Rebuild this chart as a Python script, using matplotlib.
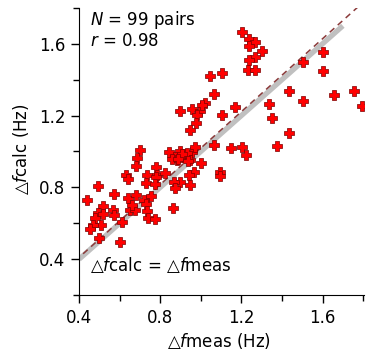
import matplotlib
matplotlib.use("Agg")
import matplotlib.pyplot as plt
from matplotlib.ticker import MultipleLocator

# measured vs calculated frequency shift (Hz), 99 pairs
f_meas = [1.203, 1.236, 1.266, 1.236, 1.302, 1.266, 1.236, 1.231, 1.269, 1.603,
          1.503, 1.603, 1.105, 1.437, 1.656, 1.755, 1.795, 1.503, 1.335, 1.167,
          1.105, 1.352, 1.437, 1.376, 1.151, 1.203, 1.223, 1.047, 1.067, 1.022,
          0.899, 0.957, 0.998, 0.981, 0.978, 0.948, 0.701, 0.841, 0.899, 0.957,
          0.874, 0.915, 0.885, 0.948, 0.973, 1.067, 0.778, 1.001, 0.964, 0.940,
          0.899, 0.866, 0.948, 1.096, 1.096, 0.685, 0.679, 0.734, 0.784, 0.825,
          0.632, 0.643, 0.728, 0.780, 0.775, 0.495, 0.570, 0.640, 0.681, 0.438,
          0.721, 0.753, 0.731, 0.734, 0.742, 0.775, 0.862, 0.516, 0.569, 0.491,
          0.573, 0.649, 0.677, 0.479, 0.611, 0.506, 0.471, 0.454, 0.499, 0.601,
          0.874, 1.006, 0.930, 0.860, 0.905, 0.890, 0.935, 0.660, 0.520]
f_calc = [1.664, 1.629, 1.608, 1.590, 1.558, 1.525, 1.508, 1.456, 1.456, 1.555,
          1.501, 1.446, 1.437, 1.339, 1.316, 1.339, 1.255, 1.283, 1.266, 1.247,
          1.204, 1.186, 1.102, 1.033, 1.022, 1.027, 0.981, 1.418, 1.322, 1.270,
          1.227, 1.238, 1.223, 1.204, 1.158, 1.121, 1.009, 0.999, 1.005, 0.999,
          0.972, 0.972, 0.953, 0.953, 1.024, 1.037, 0.916, 0.935, 0.888, 0.869,
          0.832, 0.832, 0.813, 0.886, 0.864, 0.963, 0.920, 0.869, 0.869, 0.879,
          0.869, 0.844, 0.827, 0.858, 0.819, 0.805, 0.762, 0.742, 0.760, 0.732,
          0.730, 0.752, 0.707, 0.671, 0.627, 0.623, 0.683, 0.696, 0.674, 0.660,
          0.646, 0.674, 0.674, 0.630, 0.608, 0.593, 0.593, 0.568, 0.516, 0.497,
          0.795, 1.260, 0.990, 0.960, 0.985, 0.960, 0.945, 0.700, 0.650]

identity_range = [0.4, 1.7]
fit_range = [0.42, 1.78]
fit_slope = 1.015
fit_intercept = 0.004

x_ticks = [0.4, 0.8, 1.2, 1.6]
y_ticks = [0.4, 0.8, 1.2, 1.6]

plt.rcParams['font.family'] = ['DejaVu Sans']
plt.rcParams['font.size'] = 12

fig = plt.figure(figsize=(3.66, 3.56), dpi=100)
ax = fig.add_axes([0.216, 0.171, 0.779, 0.807])

ax.plot(identity_range, identity_range, color='#c0c0c0', lw=3.8,
        solid_capstyle='butt', zorder=1)
fit_y = [fit_slope * x + fit_intercept for x in fit_range]
ax.plot(fit_range, fit_y, color='#8b3a3a', lw=1.1, ls=(0, (4, 3)), zorder=2)

ax.scatter(f_meas, f_calc, marker='P', s=62, facecolor='#ff0000',
           edgecolor='#7a0000', linewidths=0.5, zorder=3)

ax.set_xlim(0.4, 1.805)
ax.set_ylim(0.2, 1.8)
ax.set_xticks(x_ticks)
ax.set_yticks(y_ticks)
ax.xaxis.set_minor_locator(MultipleLocator(0.2))
ax.yaxis.set_minor_locator(MultipleLocator(0.2))
ax.tick_params(which='major', direction='out', length=6, width=1, pad=4)
ax.tick_params(which='minor', direction='out', length=4, width=1)
ax.spines['top'].set_visible(False)
ax.spines['right'].set_visible(False)

ax.set_xlabel('△$f$meas (Hz)')
ax.set_ylabel('△$f$calc (Hz)')
ax.xaxis.set_label_coords(0.49, -0.125)
ax.yaxis.set_label_coords(-0.17, 0.51)

ax.text(0.04, 0.958, '$N$ = 99 pairs', transform=ax.transAxes, va='center')
ax.text(0.04, 0.885, '$r$ = 0.98', transform=ax.transAxes, va='center')
ax.text(0.455, 0.365, '△$f$calc = △$f$meas', va='center', ha='left')

fig.savefig('out.png', dpi=100)
